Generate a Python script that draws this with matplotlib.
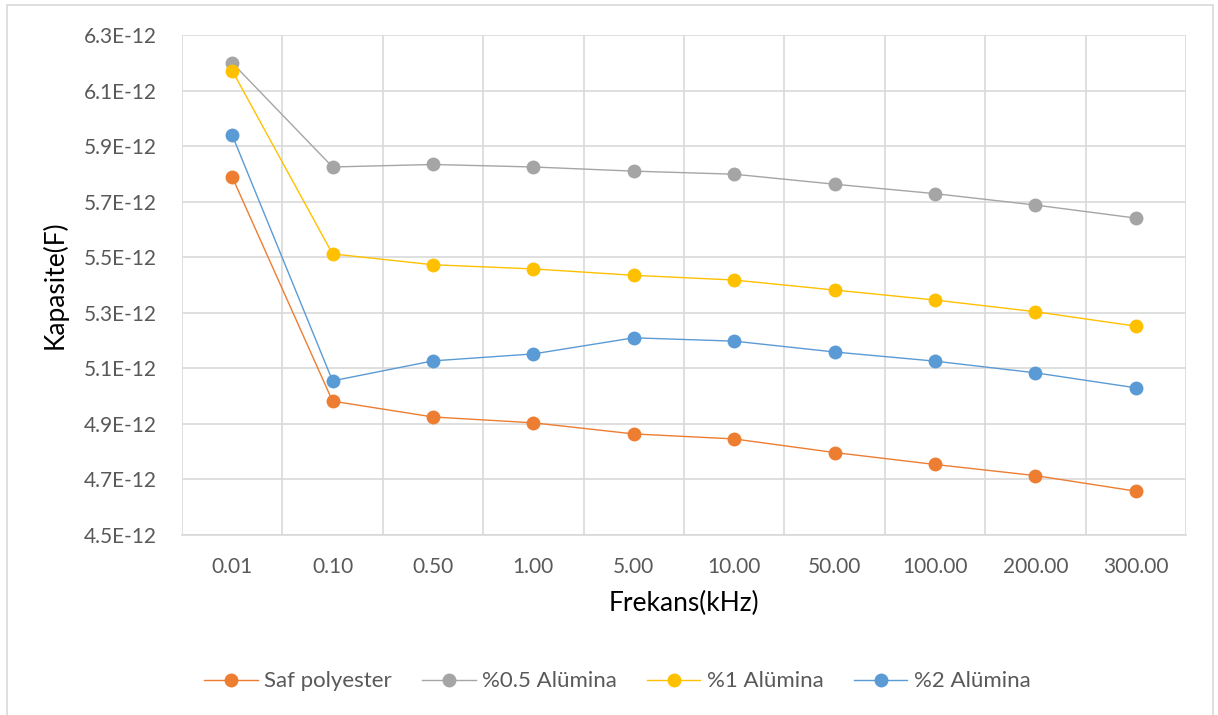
import matplotlib
matplotlib.use('Agg')
import matplotlib.pyplot as plt
from matplotlib.patches import Rectangle

plt.rcParams['font.family'] = ['Lato', 'DejaVu Sans']

freqs = ['0.01', '0.10', '0.50', '1.00', '5.00', '10.00', '50.00', '100.00', '200.00', '300.00']

# values in pF, plotted as F
saf = [5.789, 4.982, 4.925, 4.904, 4.864, 4.846, 4.797, 4.754, 4.714, 4.658]
al05 = [6.200, 5.825, 5.834, 5.825, 5.810, 5.799, 5.763, 5.729, 5.688, 5.641]
al1 = [6.172, 5.512, 5.473, 5.458, 5.435, 5.418, 5.382, 5.346, 5.304, 5.252]
al2 = [5.940, 5.055, 5.127, 5.152, 5.210, 5.198, 5.159, 5.126, 5.084, 5.030]

series = [
    ('Saf polyester', saf, '#ED7D31'),
    ('%0.5 Alümina', al05, '#A5A5A5'),
    ('%1 Alümina', al1, '#FFC000'),
    ('%2 Alümina', al2, '#5B9BD5'),
]

fig = plt.figure(figsize=(12.18, 7.15), dpi=100)
ax = fig.add_axes([0.1494, 0.2517, 0.8243, 0.6993])

x = list(range(len(freqs)))
for name, vals, col in series:
    ax.plot(x, [v * 1e-12 for v in vals], color=col, lw=1.0, marker='o',
            markersize=10, markeredgewidth=0, label=name)

ax.set_xlim(-0.5, len(freqs) - 0.5)
ax.set_ylim(4.5e-12, 6.3e-12)
yt = [4.5, 4.7, 4.9, 5.1, 5.3, 5.5, 5.7, 5.9, 6.1, 6.3]
ax.set_yticks([v * 1e-12 for v in yt])
ax.set_yticklabels([f'{v:.1f}E-12' for v in yt])
ax.set_xticks(x)
ax.set_xticklabels(freqs)
ax.set_xticks([i - 0.5 for i in range(len(freqs) + 1)], minor=True)

ax.grid(False)
ax.yaxis.grid(True, color='#D9D9D9', lw=1.2)
ax.xaxis.grid(True, which='minor', color='#D9D9D9', lw=1.2)
ax.set_axisbelow(True)
for s in ax.spines.values():
    s.set_visible(False)
ax.spines['bottom'].set_visible(True)
ax.spines['bottom'].set_color('#D9D9D9')
ax.spines['bottom'].set_linewidth(1.2)
ax.tick_params(which='both', length=0, labelsize=15, colors='#595959')
ax.tick_params(axis='x', pad=16)
ax.tick_params(axis='y', pad=18)

ax.set_xlabel('Frekans(kHz)', fontsize=19)
ax.set_ylabel('Kapasite(F)', fontsize=19)
ax.xaxis.set_label_coords(0.5, -0.112)
ax.yaxis.set_label_coords(-0.1135, 0.5)

fig.legend(loc='center', bbox_to_anchor=(0.507, 0.047), ncol=4, frameon=False,
           fontsize=16, labelcolor='#595959', columnspacing=1.35, handlelength=2.4,
           handletextpad=0.3)

fig.patches.append(Rectangle((0.006, -0.01), 0.99, 1.003, transform=fig.transFigure,
                             fill=False, edgecolor='#D9D9D9', lw=1.2))

fig.savefig('out.png', dpi=100)
